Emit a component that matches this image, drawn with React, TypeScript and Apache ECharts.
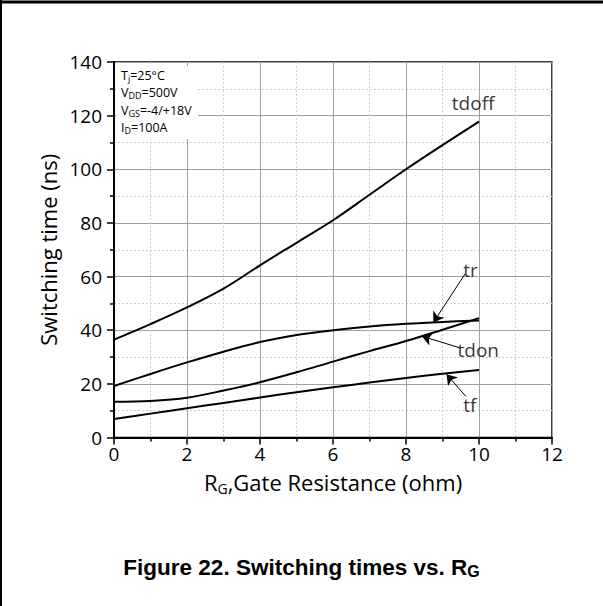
import React, { useEffect, useRef } from "react";
import * as echarts from "echarts";

const RG = [0, 1, 2, 3, 4, 5, 6, 7, 8, 9, 10];
const TDOFF = [36.5, 42.3, 48.5, 55.5, 64.2, 72.6, 81.0, 90.5, 100.0, 109.0, 117.8];
const TR = [19.2, 23.7, 28.0, 32.0, 35.6, 38.2, 40.0, 41.4, 42.4, 43.1, 43.6];
const TDON = [13.3, 13.6, 14.8, 17.5, 20.6, 24.3, 28.3, 32.2, 36.0, 40.2, 44.5];
const TF = [6.9, 8.9, 10.9, 12.9, 14.9, 16.9, 18.7, 20.5, 22.2, 23.8, 25.2];

const X_TICKS = [0, 12, 2];
const Y_TICKS = [0, 140, 20];

const CURVE_NAMES = ["tdoff", "tr", "tdon", "tf"];
const LABEL_AT: number[][] = [
  [9.84, 124.8],
  [9.77, 62.5],
  [9.98, 32.6],
  [9.75, 12.3],
];
const ARROWS: number[][][] = [
  [[9.62, 61.0], [8.75, 42.9]],
  [[9.46, 33.5], [8.43, 37.8]],
  [[9.64, 15.3], [9.11, 23.6]],
];

const CONDITIONS = [
  ["T", "j", "=25°C"],
  ["V", "DD", "=500V"],
  ["V", "GS", "=-4/+18V"],
  ["I", "D", "=100A"],
];

const FONT = "'Open Sans', 'Noto Sans', sans-serif";
const TITLE_FONT = "'Liberation Sans', Arial, sans-serif";

export default function App() {
  const ref = useRef<HTMLDivElement>(null);
  useEffect(() => {
    if (!ref.current) return;
    const chart = echarts.init(ref.current, null, { renderer: "svg" });
    const zip = (ys: number[]) => RG.map((x, i) => [x, ys[i]]);
    const curves = [TDOFF, TR, TDON, TF];
    const series: any[] = curves.map((ys, i) => ({
      type: "line",
      name: CURVE_NAMES[i],
      data: zip(ys),
      showSymbol: false,
      smooth: 0.35,
      lineStyle: { color: "#000", width: 2 },
      z: 5,
    }));
    series.push({
      type: "lines",
      coordinateSystem: "cartesian2d",
      symbol: ["none", "arrow"],
      symbolSize: [6, 10],
      lineStyle: { color: "#000", width: 1, opacity: 1 },
      data: ARROWS.map((c) => ({ coords: c })),
      z: 6,
    });
    series.push({
      type: "scatter",
      symbolSize: 1,
      itemStyle: { color: "transparent" },
      label: {
        show: true,
        position: "inside",
        formatter: "{b}",
        color: "#000",
        fontSize: 19,
        fontFamily: FONT,
      },
      data: CURVE_NAMES.map((n, i) => ({ name: n, value: LABEL_AT[i] })),
      z: 7,
    });

    const condGraphics = CONDITIONS.map((c, i) => ({
      type: "text",
      left: 121,
      top: 69 + i * 17.4,
      z: 50,
      style: {
        text: `{n|${c[0]}}{s|${c[1]}}{n|${c[2]}}`,
        rich: {
          n: { fontSize: 12.5, fontFamily: FONT, fill: "#000", lineHeight: 15, verticalAlign: "middle" },
          s: { fontSize: 9, fontFamily: FONT, fill: "#000", lineHeight: 9, verticalAlign: "bottom" },
        },
      },
    }));

    chart.setOption({
      animation: false,
      backgroundColor: "#fff",
      grid: {
        left: 114,
        right: 51,
        top: 62,
        bottom: 168.5,
        show: true,
        borderColor: "#000",
        borderWidth: 1.5,
        backgroundColor: "transparent",
      },
      xAxis: {
        type: "value",
        min: X_TICKS[0],
        max: X_TICKS[1],
        interval: X_TICKS[2],
        name: "{a|R}{s|G}{a|,Gate Resistance (ohm)}",
        nameLocation: "middle",
        nameGap: 30,
        nameTextStyle: {
          rich: {
            a: { fontSize: 22, fontFamily: FONT, color: "#000", lineHeight: 28, verticalAlign: "middle" },
            s: { fontSize: 14, fontFamily: FONT, color: "#000", lineHeight: 14, verticalAlign: "bottom" },
          },
        },
        axisLine: { show: true, onZero: false, lineStyle: { color: "#000", width: 2 } },
        axisTick: { show: true, inside: false, length: 7, lineStyle: { color: "#000", width: 1.5 } },
        minorTick: { show: true, splitNumber: 2, length: 4, lineStyle: { color: "#000", width: 1.5 } },
        axisLabel: { fontSize: 19, fontFamily: FONT, color: "#000", margin: 7 },
        splitLine: { show: true, lineStyle: { color: "#a0a0a0", width: 1 } },
        minorSplitLine: { show: true, lineStyle: { color: "#cfcfcf", width: 1, type: [2, 2] } },
      },
      yAxis: {
        type: "value",
        min: Y_TICKS[0],
        max: Y_TICKS[1],
        interval: Y_TICKS[2],
        name: "Switching time (ns)",
        nameLocation: "middle",
        nameGap: 52,
        nameTextStyle: { fontSize: 22, fontFamily: FONT, color: "#000" },
        axisLine: { show: true, onZero: false, lineStyle: { color: "#000", width: 2 } },
        axisTick: { show: true, inside: false, length: 7, lineStyle: { color: "#000", width: 1.5 } },
        minorTick: { show: true, splitNumber: 2, length: 4, lineStyle: { color: "#000", width: 1.5 } },
        axisLabel: { fontSize: 19, fontFamily: FONT, color: "#000", margin: 12 },
        splitLine: { show: true, lineStyle: { color: "#a0a0a0", width: 1 } },
        minorSplitLine: { show: true, lineStyle: { color: "#cfcfcf", width: 1, type: [2, 2] } },
      },
      series,
      graphic: [
        {
          type: "line",
          shape: { x1: 0, y1: 2, x2: 603, y2: 2 },
          style: { stroke: "#000", lineWidth: 3 },
          z: 100,
        },
        {
          type: "line",
          shape: { x1: 1, y1: 0, x2: 1, y2: 606 },
          style: { stroke: "#000", lineWidth: 2 },
          z: 100,
        },
        {
          type: "rect",
          shape: { x: 116, y: 66, width: 82, height: 73 },
          style: { fill: "#fff" },
          z: 1,
        },
        ...condGraphics,
        {
          type: "text",
          left: "center",
          top: 556,
          z: 50,
          style: {
            text: "{b|Figure 22. Switching times vs. R}{g|G}",
            rich: {
              b: { fontSize: 22.5, fontWeight: "bold", fontFamily: TITLE_FONT, fill: "#000", lineHeight: 27, verticalAlign: "bottom" },
              g: { fontSize: 16, fontWeight: "bold", fontFamily: TITLE_FONT, fill: "#000", lineHeight: 23, verticalAlign: "bottom" },
            },
          },
        },
      ],
    });
    return () => chart.dispose();
  }, []);
  return (
    <div
      ref={ref}
      style={{ position: "absolute", left: 0, top: 0, width: 603, height: 606 }}
    />
  );
}
